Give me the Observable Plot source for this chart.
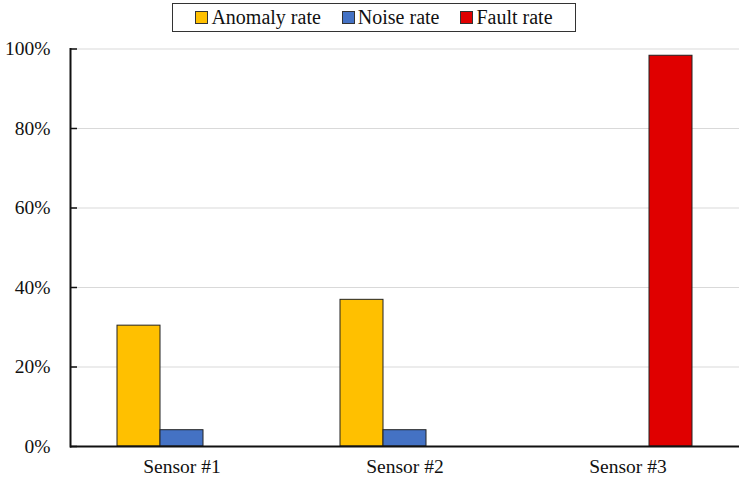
<!DOCTYPE html>
<html>
<head>
<meta charset="utf-8">
<script src="https://cdn.jsdelivr.net/npm/d3@7"></script>
<script src="https://cdn.jsdelivr.net/npm/@observablehq/plot@0.6"></script>
<style>
  html, body { margin: 0; padding: 0; background: #fff; }
  #wrap { position: relative; width: 740px; height: 480px; font-family: "Liberation Serif", "Times New Roman", serif; }
  #legend { height: 33px; position: relative; }
  #legend .box { position: absolute; left: 172px; top: 3px; width: 402px; height: 27px; border: 1px solid #333;
    display: flex; align-items: center; justify-content: center; gap: 21px; font-size: 20px; color: #111; }
  #legend .item { display: flex; align-items: center; gap: 3px; white-space: nowrap; }
  #legend .sw { width: 11px; height: 11px; border: 1px solid #333; display: inline-block; }
</style>
</head>
<body>
<div id="wrap">
  <div id="legend"><div class="box"></div></div>
  <div id="chart"></div>
</div>
<script>
const sensors = ["Sensor #1", "Sensor #2", "Sensor #3"];
const series = ["Anomaly rate", "Noise rate", "Fault rate"];
const colors = ["#FFC000", "#4472C4", "#E00000"];
const anomalyRate = [30.4, 36.9, 0];
const noiseRate = [4.1, 4.1, 0];
const faultRate = [0, 0, 98.3];
const yTicks = [0, 20, 40, 60, 80, 100];

const valuesBySeries = [anomalyRate, noiseRate, faultRate];
const data = [];
sensors.forEach((s, i) => {
  series.forEach((k, j) => {
    const v = valuesBySeries[j][i];
    if (v > 0) data.push({sensor: s, series: k, value: v});
  });
});

// legend
const box = document.querySelector("#legend .box");
series.forEach((k, j) => {
  const it = document.createElement("span");
  it.className = "item";
  const sw = document.createElement("span");
  sw.className = "sw";
  sw.style.background = colors[j];
  const t = document.createElement("span");
  t.textContent = k;
  it.appendChild(sw); it.appendChild(t);
  box.appendChild(it);
});

const chart = Plot.plot({
  width: 740,
  height: 447,
  marginLeft: 70,
  marginRight: 1,
  marginTop: 15.5,
  marginBottom: 34,
  style: {fontFamily: "'Liberation Serif', 'Times New Roman', serif", fontSize: "19.5px", color: "#111", background: "#fff"},
  fx: {domain: sensors, padding: 0, label: null},
  x: {domain: series, paddingInner: 0, paddingOuter: 1.093, axis: null},
  y: {domain: [0, 100], label: null},
  color: {domain: series, range: colors},
  marks: [
    Plot.gridY(yTicks, {stroke: "#d9d9d9", strokeOpacity: 1, strokeWidth: 1}),
    Plot.barY(data, {fx: "sensor", x: "series", y: "value", fill: "series", stroke: "#222", strokeWidth: 1}),
    Plot.ruleY([0], {stroke: "#111", strokeWidth: 2}),
    Plot.axisY(yTicks, {tickSize: -7, text: null, stroke: "#111", strokeWidth: 1.5, label: null}),
    Plot.axisY(yTicks, {tickSize: 0, tickPadding: 20, tickFormat: d => d + "%", label: null, fill: "#111"}),
    Plot.frame({anchor: "left", facetAnchor: "left", stroke: "#111", strokeWidth: 2}),
    Plot.axisFx({anchor: "bottom", tickSize: 0, tickPadding: 13, label: null, fill: "#111"})
  ]
});
document.getElementById("chart").appendChild(chart);
</script>
</body>
</html>
